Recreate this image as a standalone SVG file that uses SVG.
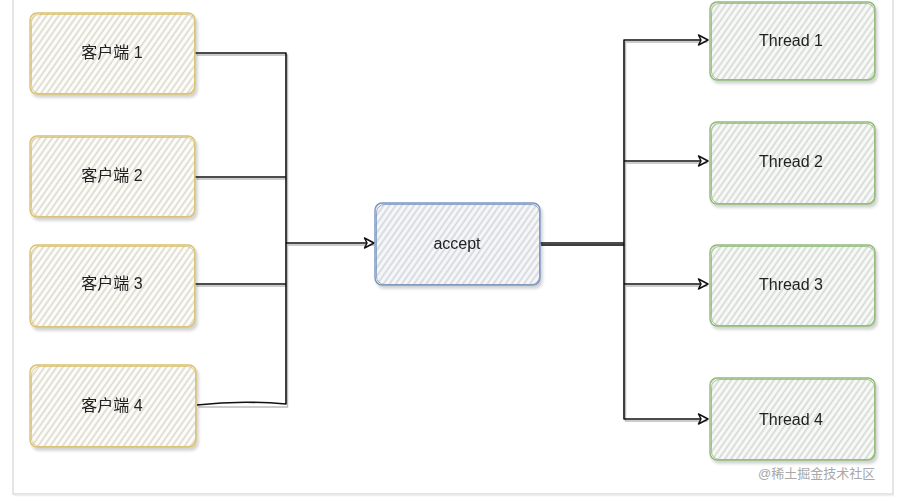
<svg xmlns="http://www.w3.org/2000/svg" width="900" height="498" viewBox="0 0 900 498">
  <defs>
    <pattern id="hatch" patternUnits="userSpaceOnUse" width="5" height="5" patternTransform="rotate(35)">
      <line x1="2" y1="0" x2="2" y2="5" stroke="#bcbcbc" stroke-width="0.9"/>
    </pattern>
    <marker id="arr" markerWidth="14" markerHeight="14" refX="11" refY="7" orient="auto" markerUnits="userSpaceOnUse">
      <path d="M1.5,2 L11,7 L1.5,12 L4,7 Z" fill="#fff" stroke="#111" stroke-width="1.5" stroke-linejoin="round"/>
    </marker>
    <filter id="sh" x="-10%" y="-10%" width="120%" height="130%">
      <feGaussianBlur in="SourceAlpha" stdDeviation="1.5"/>
      <feOffset dx="2" dy="3"/>
      <feComponentTransfer><feFuncA type="linear" slope="0.18"/></feComponentTransfer>
      <feMerge><feMergeNode/><feMergeNode in="SourceGraphic"/></feMerge>
    </filter>
  </defs>
  <style>
    .lbl { font-family: "Liberation Sans", "Noto Sans CJK SC", sans-serif; font-size: 16px; fill: #222; text-anchor: middle; dominant-baseline: central; }
    .y .bg { fill: #fdfcf5; }
    .b .bg { fill: #f4f6fa; }
    .g .bg { fill: #f6f9f5; }
    .hat { fill: url(#hatch); }
    .y .s { stroke: #d9c170; }
    .b .s { stroke: #7b96c0; }
    .g .s { stroke: #8fba78; }
    .s { fill: none; stroke-width: 1.4; }
    .s2 { stroke-width: 1; opacity: 0.8; }
    .c { fill: none; stroke: #111; stroke-width: 1.6; stroke-linejoin: round; }
    .cs { fill: none; stroke: #bbb; stroke-width: 1.4; }
    .wm { font-family: "Liberation Sans", "Noto Sans CJK SC", sans-serif; font-size: 13px; fill: #a8a8a8; }
  </style>
  <rect x="0" y="0" width="900" height="498" fill="#fff"/>
  <rect x="13" y="-10" width="880" height="504" fill="none" stroke="#d4d4d4" stroke-width="1.2"/>
  <line x1="14" y1="495.5" x2="894" y2="495.5" stroke="#eee" stroke-width="1.5"/>

  <g id="connectors">
    <g transform="translate(1.5,2)">
      <path class="cs" d="M195,53 H286 V243 H373"/>
      <path class="cs" d="M195,177 H286"/>
      <path class="cs" d="M195,284 H286"/>
      <path class="cs" d="M197,405 H286 V243"/>
      <path class="cs" d="M540,243 H624 V40 H706"/>
      <path class="cs" d="M624,243 V419 H706"/>
      <path class="cs" d="M624,161 H706"/>
      <path class="cs" d="M624,284 H706"/>
    </g>
    <path class="c" d="M195,53 H286 V243 H374" marker-end="url(#arr)"/>
    <path class="c" d="M195,177 H286"/>
    <path class="c" d="M195,284 H286"/>
    <path class="c" d="M197,405 Q240,400 286,404 V243"/>
    <path class="c" d="M540,243 H624"/>
    <path class="c" d="M541,245 H624"/>
    <path class="c" d="M624,243 V40 H708" marker-end="url(#arr)"/>
    <path class="c" d="M624,243 V419 H708" marker-end="url(#arr)"/>
    <path class="c" d="M624,161 H708" marker-end="url(#arr)"/>
    <path class="c" d="M624,284 H708" marker-end="url(#arr)"/>
  </g>

  <g id="client1" class="y" filter="url(#sh)">
    <rect class="bg" x="30" y="13" width="165" height="81" rx="7"/>
    <rect class="hat" x="30" y="13" width="165" height="81" rx="7"/>
    <rect class="s" x="30" y="13" width="165" height="81" rx="7"/>
    <rect class="s s2" x="31.5" y="14.5" width="163" height="79" rx="8"/>
    <text class="lbl" x="112" y="52">客户端 1</text>
  </g>
  <g id="client2" class="y" filter="url(#sh)">
    <rect class="bg" x="30" y="136" width="165" height="81" rx="7"/>
    <rect class="hat" x="30" y="136" width="165" height="81" rx="7"/>
    <rect class="s" x="30" y="136" width="165" height="81" rx="7"/>
    <rect class="s s2" x="31.5" y="137.5" width="163" height="79" rx="8"/>
    <text class="lbl" x="112" y="175">客户端 2</text>
  </g>
  <g id="client3" class="y" filter="url(#sh)">
    <rect class="bg" x="30" y="245" width="165" height="82" rx="7"/>
    <rect class="hat" x="30" y="245" width="165" height="82" rx="7"/>
    <rect class="s" x="30" y="245" width="165" height="82" rx="7"/>
    <rect class="s s2" x="31.5" y="246.5" width="163" height="80" rx="8"/>
    <text class="lbl" x="112" y="283">客户端 3</text>
  </g>
  <g id="client4" class="y" filter="url(#sh)">
    <rect class="bg" x="30" y="365" width="166" height="82" rx="7"/>
    <rect class="hat" x="30" y="365" width="166" height="82" rx="7"/>
    <rect class="s" x="30" y="365" width="166" height="82" rx="7"/>
    <rect class="s s2" x="31.5" y="366.5" width="164" height="80" rx="8"/>
    <text class="lbl" x="112" y="405">客户端 4</text>
  </g>

  <g id="accept" class="b" filter="url(#sh)">
    <rect class="bg" x="375" y="203" width="165" height="82" rx="7"/>
    <rect class="hat" x="375" y="203" width="165" height="82" rx="7"/>
    <rect class="s" x="375" y="203" width="165" height="82" rx="7"/>
    <rect class="s s2" x="376.5" y="204.5" width="163" height="80" rx="8"/>
    <text class="lbl" x="457" y="243">accept</text>
  </g>

  <g id="thread1" class="g" filter="url(#sh)">
    <rect class="bg" x="710" y="2" width="165" height="78" rx="7"/>
    <rect class="hat" x="710" y="2" width="165" height="78" rx="7"/>
    <rect class="s" x="710" y="2" width="165" height="78" rx="7"/>
    <rect class="s s2" x="711.5" y="3.5" width="163" height="76" rx="8"/>
    <text class="lbl" x="791" y="40">Thread 1</text>
  </g>
  <g id="thread2" class="g" filter="url(#sh)">
    <rect class="bg" x="710" y="122" width="165" height="82" rx="7"/>
    <rect class="hat" x="710" y="122" width="165" height="82" rx="7"/>
    <rect class="s" x="710" y="122" width="165" height="82" rx="7"/>
    <rect class="s s2" x="711.5" y="123.5" width="163" height="80" rx="8"/>
    <text class="lbl" x="791" y="161">Thread 2</text>
  </g>
  <g id="thread3" class="g" filter="url(#sh)">
    <rect class="bg" x="710" y="245" width="165" height="81" rx="7"/>
    <rect class="hat" x="710" y="245" width="165" height="81" rx="7"/>
    <rect class="s" x="710" y="245" width="165" height="81" rx="7"/>
    <rect class="s s2" x="711.5" y="246.5" width="163" height="79" rx="8"/>
    <text class="lbl" x="791" y="284">Thread 3</text>
  </g>
  <g id="thread4" class="g" filter="url(#sh)">
    <rect class="bg" x="710" y="378" width="165" height="82" rx="7"/>
    <rect class="hat" x="710" y="378" width="165" height="82" rx="7"/>
    <rect class="s" x="710" y="378" width="165" height="82" rx="7"/>
    <rect class="s s2" x="711.5" y="379.5" width="163" height="80" rx="8"/>
    <text class="lbl" x="791" y="419">Thread 4</text>
  </g>

  <text class="wm" x="758" y="478">@稀土掘金技术社区</text>
</svg>
